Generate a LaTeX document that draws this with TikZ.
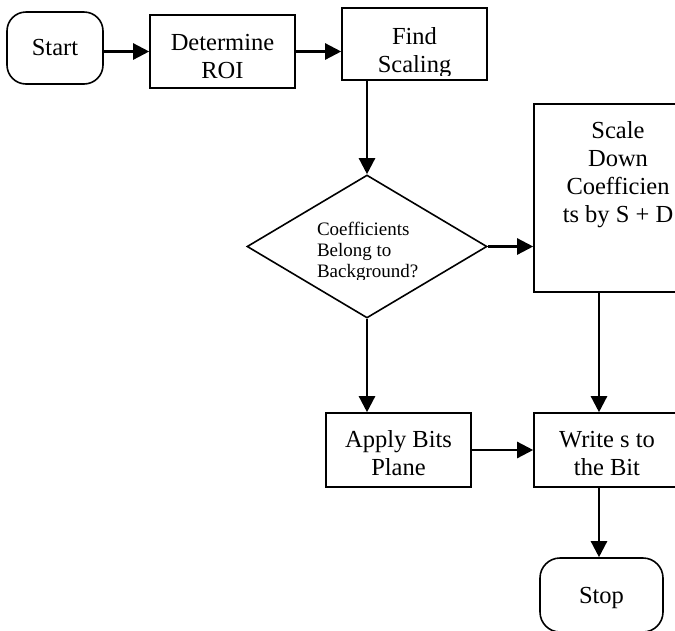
\documentclass[tikz,border=0pt]{standalone}
\usepackage{fontspec}
\setmainfont{Liberation Serif}
\usetikzlibrary{arrows.meta,shapes.geometric}
\newcommand\tx[3]{\raisebox{#1}[0pt][0pt]{\parbox[t]{#2}{\centering #3}}}
\newcommand\txl[3]{\raisebox{#1}[0pt][0pt]{\parbox[t]{#2}{\raggedright #3}}}
\begin{document}
\begin{tikzpicture}[x=1pt,y=-1pt,
  bx/.style={draw, line width=1.6pt, inner sep=0pt, font=\fontsize{24.5}{28}\selectfont},
  term/.style={bx, rounded corners=19pt},
  decision/.style={draw, diamond, line width=1.6pt, inner sep=0pt, font=\fontsize{19}{21}\selectfont},
  arr/.style={line width=2.4pt, -{Triangle[length=16pt,width=16pt]}}]
\useasboundingbox (0,0) rectangle (675,630);
\clip (0,0) rectangle (675,630);
\node[term, minimum width=96pt, minimum height=72pt] (start) at (55,48) {\tx{-7pt}{96pt}{Start}};
\node[bx, minimum width=145pt, minimum height=73pt] (det) at (222.5,51.5) {\tx{1.5pt}{145pt}{Determine\\ROI}};
\node[bx, minimum width=145pt, minimum height=72pt] (find) at (414.5,44) {\tx{0pt}{145pt}{Find\\Scaling}};
\node[decision, minimum width=240pt, minimum height=143pt] (q) at (367,246.5) {\txl{11.5pt}{100pt}{Coefficients\\Belong to\\Background?}};
\node[bx, minimum width=168pt, minimum height=188pt] (scale) at (618,198) {\tx{60pt}{168pt}{Scale\\Down\\Coefficien\\ts by S + D}};
\node[bx, minimum width=145pt, minimum height=74pt] (apply) at (398.5,450) {\tx{3pt}{145pt}{Apply Bits\\Plane}};
\node[bx, minimum width=146pt, minimum height=74pt] (write) at (607,450) {\tx{3pt}{146pt}{Write s to\\the Bit}};
\node[term, rounded corners=20pt, minimum width=123pt, minimum height=74pt] (stop) at (601.5,595) {\tx{-8pt}{123pt}{Stop}};
% text clipped at the box edge, as in the reference
\fill[white] (378,76) rectangle (455,79);
\fill[white] (318,280) rectangle (418,286);
\coordinate (vx) at (599,300);
\draw[arr] (start.east |- det.west) -- (det.west);
\draw[arr] (det.east) -- (det.east -| find.west);
\draw[arr] (find.south -| q.north) -- (q.north);
\draw[arr] (q.east) -- (q.east -| scale.west);
\draw[arr] (q.south) -- (q.south |- apply.north);
\draw[arr] (apply.east) -- (apply.east -| write.west);
\draw[arr] (vx |- scale.south) -- (vx |- write.north);
\draw[arr] (vx |- write.south) -- (vx |- stop.north);
\end{tikzpicture}
\end{document}
